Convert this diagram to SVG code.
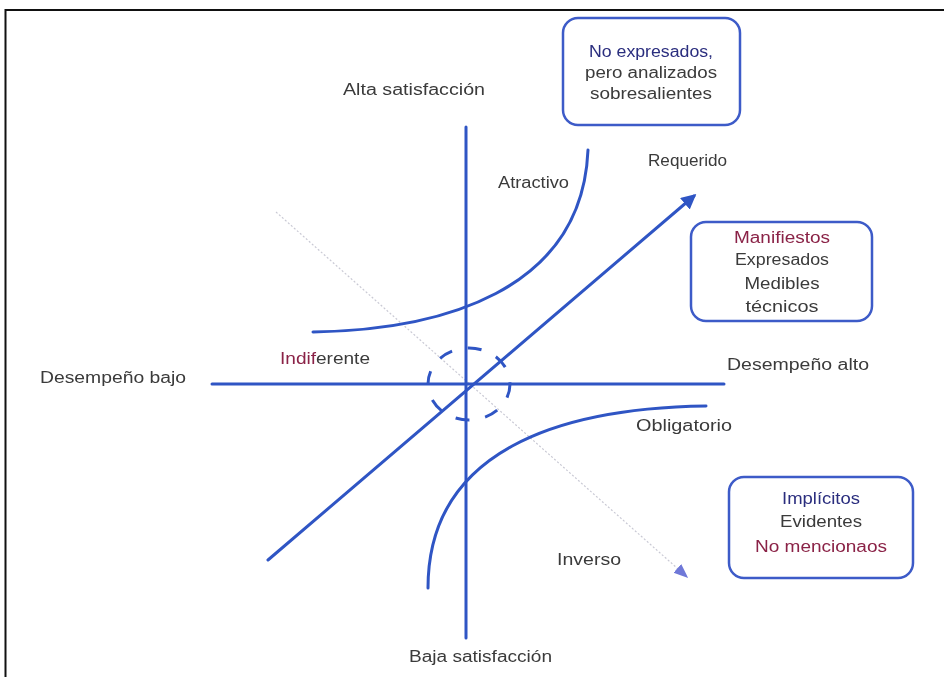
<svg xmlns="http://www.w3.org/2000/svg" width="944" height="677" viewBox="0 0 944 677">
  <defs>
    <marker id="arrowBlue" viewBox="0 0 10 10" refX="8" refY="5" markerWidth="5" markerHeight="5" orient="auto" markerUnits="strokeWidth">
      <path d="M0,0 L10,5 L0,10 z" fill="#2f55c4"/>
    </marker>
    <marker id="arrowFaint" viewBox="0 0 10 10" refX="8" refY="5" markerWidth="12" markerHeight="12" orient="auto" markerUnits="strokeWidth">
      <path d="M0,1 L10,5 L0,9 z" fill="#6f78d8"/>
    </marker>
    <filter id="soft" x="-5%" y="-20%" width="110%" height="140%">
      <feGaussianBlur stdDeviation="0.45"/>
    </filter>
  </defs>
  <style>
    .axis { stroke: #2f55c4; stroke-width: 3; fill: none; stroke-linecap: round; }
    .curve { stroke: #2f55c4; stroke-width: 3; fill: none; stroke-linecap: round; }
    .box { fill: #ffffff; stroke: #3d5bc8; stroke-width: 2.5; }
    .lbl { font-family: "Liberation Sans", Arial, sans-serif; font-size: 16px; fill: #3a3a3a; }
    .mid { text-anchor: middle; }
    .navy { fill: #2a2d7e; }
    .maroon { fill: #8a2246; }
  </style>

  <rect width="944" height="677" fill="#ffffff"/>
  <!-- frame edges -->
  <path d="M5.5,677 L5.5,10 L944,10" fill="none" stroke="#111111" stroke-width="2"/>

  <g id="connectors">
    <!-- faint diagonal towards "Inverso" -->
    <line x1="276" y1="212" x2="686" y2="576" stroke="#c9c9d4" stroke-width="1.2" stroke-dasharray="2 2" marker-end="url(#arrowFaint)"/>
    <!-- axes -->
    <line class="axis" x1="466" y1="127" x2="466" y2="638"/>
    <line class="axis" x1="212" y1="384" x2="724" y2="384"/>
    <!-- required line -->
    <line class="axis" x1="268" y1="560" x2="694" y2="196" marker-end="url(#arrowBlue)"/>
    <!-- attractive curve -->
    <path class="curve" d="M313,332 C440,330 582,292 588,150"/>
    <!-- mandatory curve -->
    <path class="curve" d="M428,588 C428,450 560,408 706,406"/>
    <!-- indifference zone -->
    <ellipse cx="469" cy="384" rx="41" ry="36" fill="none" stroke="#2f55c4" stroke-width="3" stroke-dasharray="14 16"/>
  </g>

  <g id="axis-labels" filter="url(#soft)">
    <text class="lbl" x="343" y="95" textLength="142" lengthAdjust="spacingAndGlyphs">Alta satisfacción</text>
    <text class="lbl" x="409" y="662" textLength="143" lengthAdjust="spacingAndGlyphs">Baja satisfacción</text>
    <text class="lbl" x="40" y="383" textLength="146" lengthAdjust="spacingAndGlyphs">Desempeño bajo</text>
    <text class="lbl" x="727" y="370" textLength="142" lengthAdjust="spacingAndGlyphs">Desempeño alto</text>
  </g>

  <g id="curve-labels" filter="url(#soft)">
    <text class="lbl" x="498" y="188" textLength="71" lengthAdjust="spacingAndGlyphs">Atractivo</text>
    <text class="lbl" x="648" y="166" textLength="79" lengthAdjust="spacingAndGlyphs">Requerido</text>
    <text class="lbl" x="280" y="364" textLength="90" lengthAdjust="spacingAndGlyphs"><tspan class="maroon">Indif</tspan>erente</text>
    <text class="lbl" x="636" y="431" textLength="96" lengthAdjust="spacingAndGlyphs">Obligatorio</text>
    <text class="lbl" x="557" y="565" textLength="64" lengthAdjust="spacingAndGlyphs">Inverso</text>
  </g>

  <g id="box-unspoken">
    <rect class="box" x="563" y="18" width="177" height="107" rx="15"/>
    <g filter="url(#soft)">
      <text class="lbl mid navy" x="651" y="57" textLength="124" lengthAdjust="spacingAndGlyphs">No expresados,</text>
      <text class="lbl mid" x="651" y="78" textLength="132" lengthAdjust="spacingAndGlyphs">pero analizados</text>
      <text class="lbl mid" x="651" y="99" textLength="122" lengthAdjust="spacingAndGlyphs">sobresalientes</text>
    </g>
  </g>

  <g id="box-manifest">
    <rect class="box" x="691" y="222" width="181" height="99" rx="15"/>
    <g filter="url(#soft)">
      <text class="lbl mid maroon" x="782" y="243" textLength="96" lengthAdjust="spacingAndGlyphs">Manifiestos</text>
      <text class="lbl mid" x="782" y="265" textLength="94" lengthAdjust="spacingAndGlyphs">Expresados</text>
      <text class="lbl mid" x="782" y="289" textLength="75" lengthAdjust="spacingAndGlyphs">Medibles</text>
      <text class="lbl mid" x="782" y="312" textLength="73" lengthAdjust="spacingAndGlyphs">técnicos</text>
    </g>
  </g>

  <g id="box-implicit">
    <rect class="box" x="729" y="477" width="184" height="101" rx="15"/>
    <g filter="url(#soft)">
      <text class="lbl mid navy" x="821" y="504" textLength="78" lengthAdjust="spacingAndGlyphs">Implícitos</text>
      <text class="lbl mid" x="821" y="527" textLength="82" lengthAdjust="spacingAndGlyphs">Evidentes</text>
      <text class="lbl mid maroon" x="821" y="552" textLength="132" lengthAdjust="spacingAndGlyphs">No mencionaos</text>
    </g>
  </g>
</svg>
